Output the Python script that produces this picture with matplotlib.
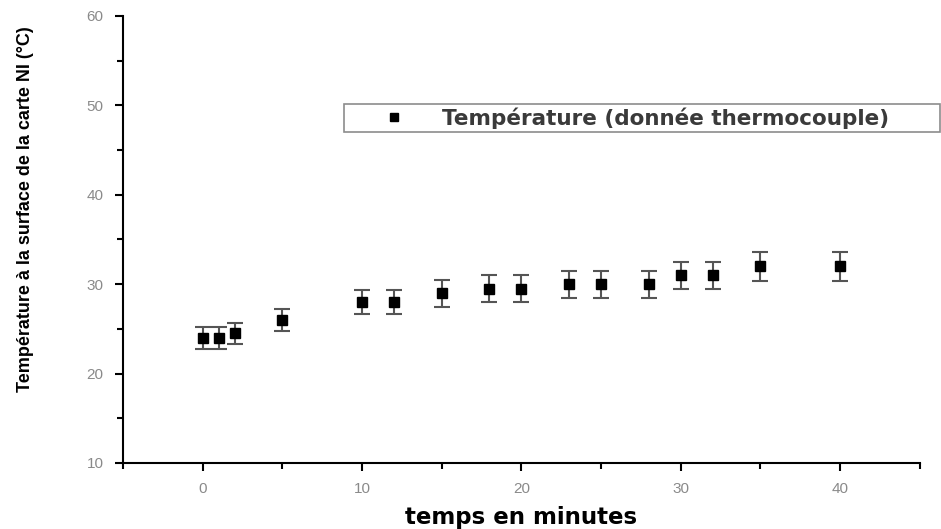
import matplotlib.pyplot as plt
from matplotlib.ticker import MultipleLocator

# data
temps = [0, 1, 2, 5, 10, 12, 15, 18, 20, 23, 25, 28, 30, 32, 35, 40]
temperature = [24, 24, 24.5, 26, 28, 28, 29, 29.5, 29.5, 30, 30, 30, 31, 31, 32, 32]
erreur = [1.2, 1.2, 1.2, 1.2, 1.3, 1.3, 1.5, 1.5, 1.5, 1.5, 1.5, 1.5, 1.5, 1.5, 1.6, 1.6]

plt.rcParams['font.family'] = ['Liberation Sans', 'DejaVu Sans']

fig = plt.figure(figsize=(9.41, 5.29), dpi=100)
ax = fig.add_axes([0.1307, 0.1248, 0.8466, 0.845])

eb = ax.errorbar(temps, temperature, yerr=erreur, fmt='s', color='black',
                 markersize=7, ecolor='#555555', elinewidth=1.5, capsize=6,
                 capthick=1.5)

ax.set_xlim(-5, 45)
ax.set_ylim(10, 60)
ax.xaxis.set_major_locator(MultipleLocator(10))
ax.xaxis.set_minor_locator(MultipleLocator(5))
ax.yaxis.set_major_locator(MultipleLocator(10))
ax.yaxis.set_minor_locator(MultipleLocator(5))

ax.spines['top'].set_visible(False)
ax.spines['right'].set_visible(False)
ax.spines['left'].set_linewidth(1.5)
ax.spines['bottom'].set_linewidth(1.5)
ax.tick_params(which='major', direction='out', length=6, width=1.5,
               labelsize=11, labelcolor='#8a8a8a', pad=8)
ax.tick_params(which='minor', direction='out', length=4, width=1.5)

ax.set_xlabel('temps en minutes', fontsize=16.5, fontweight='bold',
              family=['DejaVu Sans'], labelpad=7)
ax.set_ylabel('Température à la surface de la carte NI (°C)', fontsize=13,
              fontweight='bold', family=['Liberation Sans Narrow', 'Liberation Sans'])
ax.yaxis.set_label_coords(-0.112, 0.568)

# legend: marker only, wide box reaching the right edge
leg = ax.legend([eb[0]], ['Température (donnée thermocouple)'],
                loc='center left', mode='expand',
                bbox_to_anchor=(344 / 941, 1 - 131 / 529, 596 / 941, 26 / 529),
                bbox_transform=fig.transFigure, frameon=True, fancybox=False,
                prop={'family': 'DejaVu Sans', 'weight': 'bold', 'size': 15.5},
                handlelength=4.3, handletextpad=0.1, borderpad=0.15,
                borderaxespad=0, markerscale=0.75)
leg.get_frame().set_edgecolor('#707070')
leg.get_frame().set_linewidth(1.2)
for t in leg.get_texts():
    t.set_color('#3a3a3a')

fig.savefig('out.png', dpi=100)
